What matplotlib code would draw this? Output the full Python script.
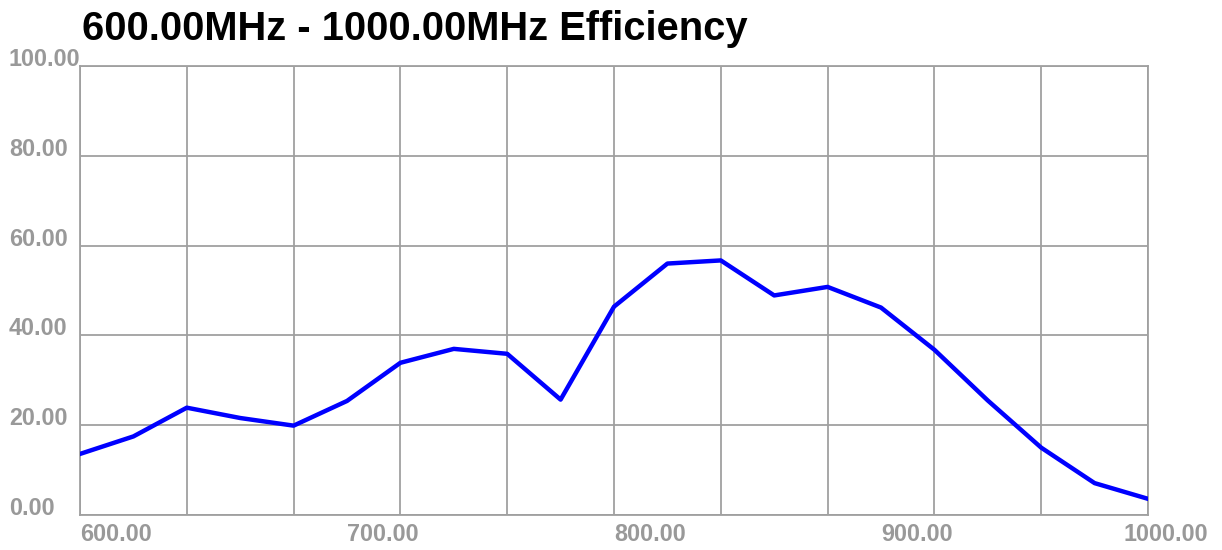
import matplotlib
matplotlib.use("Agg")
import matplotlib.pyplot as plt
from matplotlib import transforms

# Data
freq = [600, 620, 640, 660, 680, 700, 720, 740, 760, 780, 800,
        820, 840, 860, 880, 900, 920, 940, 960, 980, 1000]
eff = [13.6, 17.5, 23.9, 21.6, 19.9, 25.4, 33.9, 37.0, 35.9, 25.7, 46.4,
       56.0, 56.7, 48.9, 50.8, 46.2, 36.8, 25.5, 15.0, 7.1, 3.6]
x_labels = [600, 700, 800, 900, 1000]
y_labels = [0, 20, 40, 60, 80, 100]
title = "600.00MHz - 1000.00MHz Efficiency"

plt.rcParams["font.family"] = ["Liberation Sans", "DejaVu Sans"]
grey = "#a0a0a0"

fig = plt.figure(figsize=(12.22, 5.5), dpi=100)
W, H = 1222, 550
ax = fig.add_axes([80 / W, (H - 515) / H, (1148 - 80) / W, (515 - 66) / H])

ax.plot(freq, eff, color="#0000ff", lw=3.2, zorder=3)

ax.set_xlim(600, 1000)
ax.set_ylim(0, 100)
ax.set_xticks(range(600, 1001, 40))
ax.set_yticks(y_labels)
ax.tick_params(length=0, labelbottom=False, labelleft=False)
ax.grid(True, color=grey, lw=1.3)
for s in ax.spines.values():
    s.set_color(grey)
    s.set_linewidth(1.3)

lab_kw = dict(color="#999999", fontsize=16.8, fontweight="bold")

# y labels: left aligned at the figure edge, sitting on the grid line
ytr = transforms.blended_transform_factory(fig.transFigure, ax.transData)
for v in y_labels:
    ax.text(9 / W, v, f"{v:.2f}", transform=ytr, ha="left", va="baseline",
            clip_on=False, **lab_kw)

# x labels: left aligned at the value, last one pulled inside
xtr = transforms.blended_transform_factory(ax.transData, ax.transAxes)
for v in x_labels:
    if v == x_labels[-1]:
        off = transforms.ScaledTranslation(60 / 100, -8 / 100, fig.dpi_scale_trans)
        ax.text(v, 0, f"{v:.2f}", transform=xtr + off, ha="right", va="top",
                clip_on=False, **lab_kw)
    else:
        off = transforms.ScaledTranslation(0, -8 / 100, fig.dpi_scale_trans)
        ax.text(v, 0, f"{v:.2f}", transform=xtr + off, ha="left", va="top",
                clip_on=False, **lab_kw)

fig.text(82 / W, 1 - 40 / H, title, fontsize=28.7, fontweight="bold",
         color="black", ha="left", va="baseline")

fig.savefig("out.png", dpi=100)
